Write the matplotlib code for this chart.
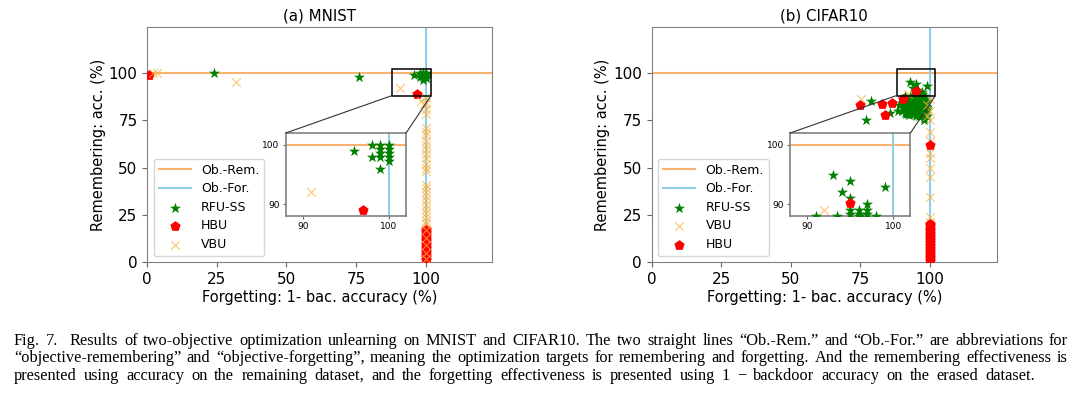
import matplotlib
matplotlib.use("Agg")
import matplotlib.pyplot as plt
from matplotlib.patches import Rectangle, ConnectionPatch

########################################################################
# values

# (a) MNIST
mnist_rfu_x = [24, 76, 96, 98, 98, 99, 99, 99, 99, 99, 100, 100, 100, 100, 100]
mnist_rfu_y = [100, 98, 99, 100, 98, 100, 99.3, 98.7, 98, 96, 100, 99.3, 98.7, 98, 97.3]

mnist_hbu_x = [0.5, 97]
mnist_hbu_y = [99, 89]
mnist_hbu_col = [1, 1.8, 2.6, 3.5, 4.3, 5.2, 6, 6.9, 7.7, 8.6, 9.4, 10.3, 11.1, 12, 12.8,
                 13.7, 14.5, 15.4, 16.2, 17.1, 17.8]

mnist_vbu_x = [2, 3.5, 32, 91, 98.2, 99.3]
mnist_vbu_y = [100, 100, 95, 92, 85.3, 83.5]
mnist_vbu_col = [87, 84, 81, 78, 71, 69, 67, 64, 62, 60, 57, 55, 52, 50, 48, 41, 39, 37,
                 35, 33, 30, 28, 26, 24, 22, 20, 17, 13, 9, 5, 2]

# (b) CIFAR10
cifar_rfu_x = [79, 77, 85.5, 88.4, 91, 93, 94, 95, 95, 95, 95, 96, 96, 97, 97, 97, 98, 99,
               90, 91, 91, 92, 92, 92, 93, 93, 93, 93, 94, 94, 94, 94, 95, 95, 95, 95,
               96, 96, 96, 96, 97, 97, 97, 97, 98, 98, 98, 98, 99, 99, 99, 90, 91, 92,
               93, 94, 95, 96, 97, 98, 92, 94, 96, 98, 93, 95, 97, 89, 91, 96, 99, 98,
               90.5, 91.5, 92.5, 93.5, 94.5, 95.5, 96.5, 97.5, 98.5, 91.5, 92.5, 93.5,
               94.5, 95.5, 96.5, 97.5, 90.5, 92.5, 94.5, 96.5, 98.5, 93.5, 95.5, 97.5]
cifar_rfu_y = [85, 75, 79, 80, 88, 95, 92, 94, 91, 89, 88.3, 89, 88.3, 90, 89, 88.3, 88, 93,
               84, 87, 81, 85, 82, 79, 87, 84, 80, 78, 86, 83, 81, 78, 87, 85, 82, 79,
               86, 84, 81, 77, 87, 83, 80, 78, 86, 84, 82, 79, 85, 81, 77, 80, 79, 86,
               82, 85, 80, 83, 85, 76, 78, 87, 79, 81, 86, 77, 82, 83, 84, 88, 82, 75,
               86, 83.5, 80.5, 85.5, 84.5, 83, 82.5, 81.5, 80.5, 78.5, 84, 79.5,
               82.5, 86.5, 79, 84.5, 82, 77.5, 80, 87.5, 83.5, 88, 78, 86]

cifar_vbu_x = [75.4, 92, 100, 99, 100, 99, 100]
cifar_vbu_y = [86.3, 89, 86, 83, 80, 77, 75]
cifar_vbu_col = [69, 64, 57.5, 55, 50, 45, 34.5, 24, 21.5, 18, 14, 10, 6, 2]

cifar_hbu_x = [74.8, 82.9, 84, 86.2, 90.2, 95, 100]
cifar_hbu_y = [83.2, 83.7, 77.9, 84, 86.3, 90.2, 61.7]
cifar_hbu_col = [0.5, 1.3, 2.1, 2.9, 3.7, 4.5, 5.3, 6.1, 6.9, 7.7, 8.5, 9.3, 10.1, 10.9,
                 11.7, 12.5, 13.3, 14.1, 14.9, 15.7, 16.5, 17.3, 18.1, 18.9, 19.7, 20.3]

col_x = 100          # the dense columns all sit on forgetting = 100
target_rem = 100     # Ob.-Rem.
target_for = 100     # Ob.-For.

caption_lines = [
    "Fig. 7.  Results of two-objective optimization unlearning on MNIST and CIFAR10. "
    "The two straight lines \u201cOb.-Rem.\u201d and \u201cOb.-For.\u201d are abbreviations for",
    "\u201cobjective-remembering\u201d and \u201cobjective-forgetting\u201d, meaning the optimization "
    "targets for remembering and forgetting. And the remembering effectiveness is",
    "presented using accuracy on the remaining dataset, and the forgetting effectiveness "
    "is presented using 1 \u2212 backdoor accuracy on the erased dataset.",
]

########################################################################
# styles

W, H = 1080, 395
rem_color = "#f8b272"
for_color = "#8fcfe8"
vbu_color = "#ffb13b"

rfu_style = dict(marker="*", color="green", s=70, zorder=3, linewidths=0)
hbu_style = dict(marker="p", color="red", s=60, zorder=3, linewidths=0)
vbu_style = dict(marker="x", color=vbu_color, s=38, zorder=3, linewidths=0.8, alpha=0.75)


def draw_points(ax, order, data):
    for name in order:
        xs, ys = data[name]
        style = {"RFU-SS": rfu_style, "HBU": hbu_style, "VBU": vbu_style}[name]
        ax.scatter(xs, ys, label=name, **style)


def make_panel(ax, title, order, data):
    ax.axhline(target_rem, color=rem_color, lw=1.5, label="Ob.-Rem.", zorder=2)
    ax.axvline(target_for, color=for_color, lw=1.5, label="Ob.-For.", zorder=2)
    draw_points(ax, order, data)
    ax.set_xlim(0, 124)
    ax.set_ylim(0, 124)
    ax.set_xticks([0, 25, 50, 75, 100])
    ax.set_yticks([0, 25, 50, 75, 100])
    ax.tick_params(labelsize=11, color="0.4")
    for sp in ax.spines.values():
        sp.set_color("0.5")
    ax.set_title(title, fontsize=10.8, pad=5)
    ax.set_xlabel("Forgetting: 1- bac. accuracy (%)", fontsize=10.5, labelpad=2)
    ax.set_ylabel("Remembering: acc. (%)", fontsize=10.5, labelpad=2)
    ax.legend(loc="lower left", fontsize=9, borderaxespad=0.5, handlelength=2.6,
              labelspacing=0.45)

    # zoomed inset
    axin = ax.inset_axes([0.401, 0.196, 0.349, 0.354])
    axin.axhline(target_rem, color=rem_color, lw=1.5, zorder=2)
    axin.axvline(target_for, color=for_color, lw=1.5, zorder=2)
    draw_points(axin, order, data)
    axin.set_xlim(88, 102)
    axin.set_ylim(88, 102)
    axin.set_xticks([90, 100])
    axin.set_yticks([90, 100])
    axin.tick_params(labelsize=6.5, length=2.5, color="0.4", pad=2)
    for sp in axin.spines.values():
        sp.set_color("0.5")
        sp.set_linewidth(1.2)

    ax.add_patch(Rectangle((88, 88), 14, 14, fill=False, ec="black", lw=1.1, zorder=6))
    for xa, xb in [(88, 0), (102, 1)]:
        con = ConnectionPatch(xyA=(xa, 88), coordsA=ax.transData,
                              xyB=(xb, 1), coordsB=axin.transAxes,
                              color="0.2", lw=0.8, zorder=6)
        ax.add_artist(con)


fig = plt.figure(figsize=(W / 100, H / 100), dpi=100)
ax1 = fig.add_axes([147.3 / W, 1 - 262.3 / H, 345 / W, 235 / H])
ax2 = fig.add_axes([651.7 / W, 1 - 262.3 / H, 345 / W, 235 / H])

mnist = {
    "RFU-SS": (mnist_rfu_x, mnist_rfu_y),
    "HBU": (mnist_hbu_x + [col_x] * len(mnist_hbu_col), mnist_hbu_y + mnist_hbu_col),
    "VBU": (mnist_vbu_x + [col_x] * len(mnist_vbu_col), mnist_vbu_y + mnist_vbu_col),
}
cifar = {
    "RFU-SS": (cifar_rfu_x, cifar_rfu_y),
    "VBU": (cifar_vbu_x + [col_x] * len(cifar_vbu_col), cifar_vbu_y + cifar_vbu_col),
    "HBU": (cifar_hbu_x + [col_x] * len(cifar_hbu_col), cifar_hbu_y + cifar_hbu_col),
}

make_panel(ax1, "(a) MNIST", ["RFU-SS", "HBU", "VBU"], mnist)
make_panel(ax2, "(b) CIFAR10", ["RFU-SS", "VBU", "HBU"], cifar)

########################################################################
# caption, justified like the paper (last line ends short, as in the reference)

renderer = fig.canvas.get_renderer()
cap_font = dict(family="Liberation Serif", fontsize=11.8, va="center")
left = 14
line_right = [1068, 1068, 1035]
line_y = [341, 358.5, 376]

for line, y, right in zip(caption_lines, line_y, line_right):
    words = line.split(" ")
    texts = [fig.text(0, 1 - y / H, w, ha="left", **cap_font) for w in words]
    widths = [t.get_window_extent(renderer).width for t in texts]
    gap = (right - left - sum(widths)) / (len(words) - 1)
    x = left
    for t, w in zip(texts, widths):
        t.set_x(x / W)
        x += w + gap

fig.savefig("out.png", dpi=100)
